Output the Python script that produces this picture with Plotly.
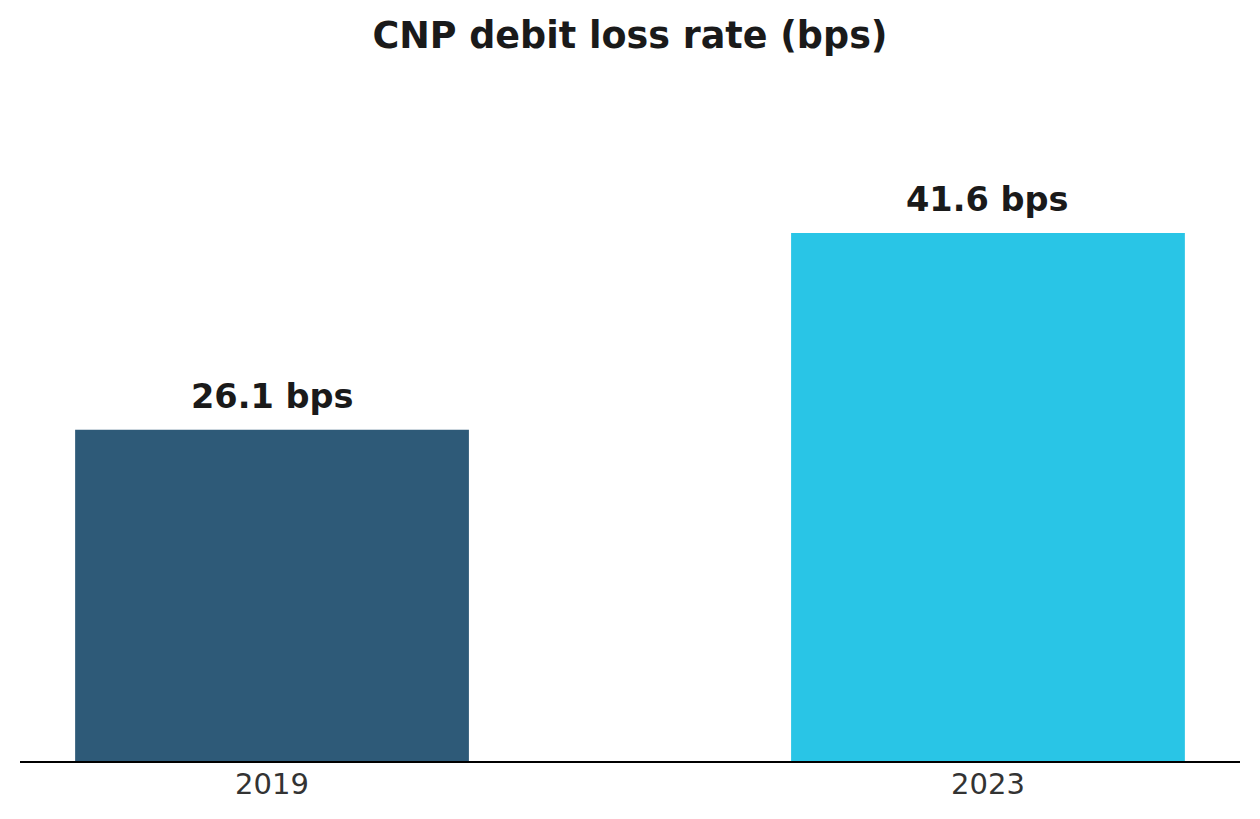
import plotly.graph_objects as go

# Data
years = ["2019", "2023"]
loss_rates = [26.1, 41.6]
bar_colors = ["#2E5A78", "#29C5E6"]
labels = [f"{v} bps" for v in loss_rates]

fig = go.Figure(data=go.Bar(
    x=years,
    y=loss_rates,
    marker=dict(color=bar_colors, line=dict(width=0)),
    width=0.55,
    cliponaxis=False,
    hovertemplate="<b>%{x}</b><br>%{y} bps<extra></extra>"
))

# value labels above the bars (x given as category index)
for i, (val, lab) in enumerate(zip(loss_rates, labels)):
    fig.add_annotation(
        x=i, y=val, text=f"<b>{lab}</b>",
        showarrow=False, yanchor="bottom", yshift=12,
        font=dict(family="DejaVu Sans", size=33.6, color="#1a1a1a")
    )

fig.update_layout(
    width=1260,
    height=819,
    paper_bgcolor="white",
    plot_bgcolor="white",
    margin=dict(l=12, r=28, t=93, b=66),
    title=dict(
        text="<b>CNP debit loss rate (bps)</b>",
        font=dict(family="DejaVu Sans", size=36.5, color="#1a1a1a"),
        x=622 / 1260, xanchor="center",
        y=1 - 27 / 819, yanchor="middle", yref="container"
    ),
    showlegend=False,
    xaxis=dict(
        type="category",
        range=[-0.352, 1.352],
        showline=True, linecolor="black", linewidth=2,
        showgrid=False, ticks="",
        ticklabelstandoff=-4,
        tickfont=dict(family="DejaVu Sans", size=29, color="#333333")
    ),
    yaxis=dict(
        range=[0, 52],
        visible=False,
        showgrid=False, zeroline=False
    )
)

fig.write_html("out.html")
